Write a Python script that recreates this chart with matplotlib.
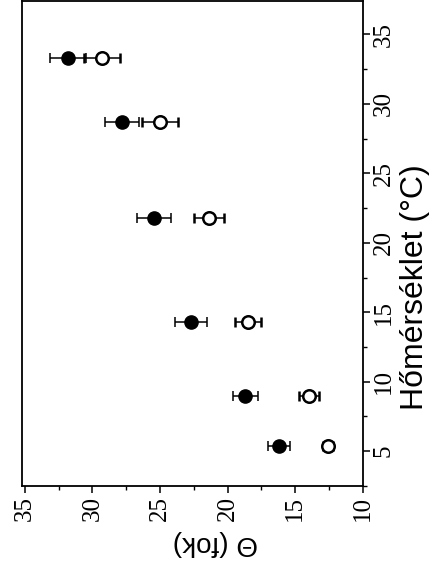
import numpy as np
import matplotlib
matplotlib.use('Agg')
import matplotlib.pyplot as plt
from matplotlib.ticker import MultipleLocator

# temperatures (°C) and contact angles (fok), with horizontal error bars
temp = [5.4, 9.0, 14.3, 21.8, 28.7, 33.3]
theta_filled = [16.2, 18.7, 22.7, 25.45, 27.8, 31.8]
err_filled = [0.8, 0.94, 1.17, 1.28, 1.28, 1.35]
theta_open = [12.6, 14.0, 18.5, 21.4, 25.0, 29.3]
err_open = [0.37, 0.73, 0.98, 1.1, 1.35, 1.35]

theta_ticks = [35, 30, 25, 20, 15, 10]
temp_ticks = [5, 10, 15, 20, 25, 30, 35]

fig = plt.figure(figsize=(4.41, 5.71), dpi=100)
ax = fig.add_axes([0.050, 0.149, 0.773, 0.849])

ax.errorbar(theta_filled, temp, xerr=err_filled, fmt='o', color='black',
            ms=9.5, elinewidth=1.1, capsize=3.5, capthick=1.1)
ax.errorbar(theta_open, temp, xerr=err_open, fmt='o', color='black',
            mfc='white', mec='black', mew=1.8, ms=9, elinewidth=1.1,
            capsize=3.5, capthick=1.1)

ax.set_xlim(35.2, 10)
ax.set_ylim(2.5, 37.4)

tick_font = {'family': 'Liberation Serif', 'size': 18}
ax.set_xticks(theta_ticks)
ax.set_xticklabels([str(t) for t in theta_ticks], fontdict=tick_font, rotation=90)
ax.set_yticks(temp_ticks)
ax.set_yticklabels([str(t) for t in temp_ticks], fontdict=tick_font,
                   rotation=90, va='center')
ax.xaxis.set_minor_locator(MultipleLocator(2.5))
ax.yaxis.set_minor_locator(MultipleLocator(2.5))
ax.yaxis.tick_right()
ax.yaxis.set_label_position('right')

ax.tick_params(which='major', direction='out', length=5, width=1.1, pad=2)
ax.tick_params(which='minor', direction='out', length=3, width=1)
ax.tick_params(axis='y', which='both', left=False, right=True)

ax.set_xlabel('Θ (fok)', rotation=180, fontfamily='Liberation Sans',
              fontsize=20)
ax.xaxis.set_label_coords(0.566, -0.09)
ax.set_ylabel('Hőmérséklet (°C)', rotation=90, fontfamily='Liberation Sans',
              fontsize=23)
ax.yaxis.set_label_coords(1.11, 0.41)

for sp in ax.spines.values():
    sp.set_linewidth(1.3)

fig.savefig('out.png', dpi=100)
